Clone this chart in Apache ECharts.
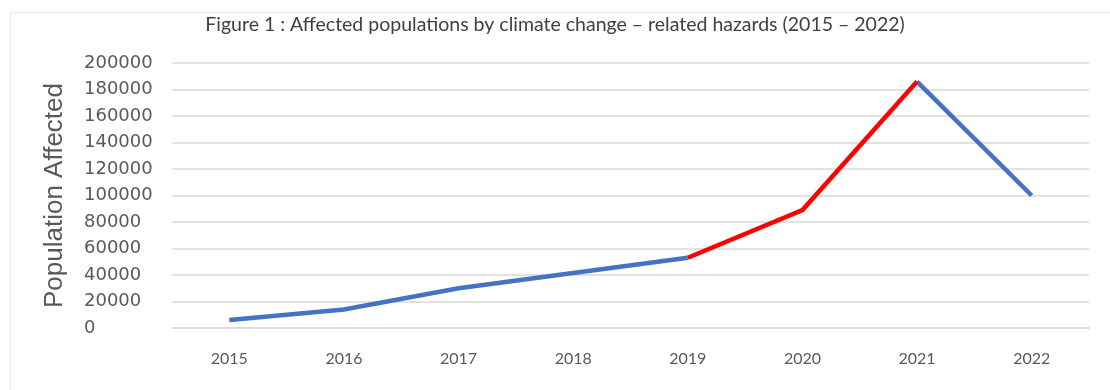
<!DOCTYPE html>
<html>
<head>
<meta charset="utf-8">
<script src="https://cdn.jsdelivr.net/npm/echarts@6/dist/echarts.min.js"></script>
<style>
  html, body { margin: 0; padding: 0; background: #ffffff; }
  #chart { width: 1110px; height: 390px; }
</style>
</head>
<body>
<div id="chart"></div>
<script>
// Years on the category axis
const years = ['2015', '2016', '2017', '2018', '2019', '2020', '2021', '2022'];
// Affected population per year
const affected = [6000, 14000, 30000, 41500, 53000, 89000, 186000, 100000];
// Years whose connecting segments are highlighted in red (2019 → 2021)
const highlightFrom = 4;
const highlightTo = 6;
// Value-axis ticks
const yMin = 0;
const yMax = 200000;
const yStep = 20000;

// Blue line: everything except the interior of the highlighted span
const blueData = affected.map((v, i) => (i > highlightFrom && i < highlightTo) ? null : v);
// Red line: only the highlighted span
const redData = affected.map((v, i) => (i >= highlightFrom && i <= highlightTo) ? v : null);

const chart = echarts.init(document.getElementById('chart'), null, { renderer: 'canvas' });

chart.setOption({
  animation: false,
  backgroundColor: '#ffffff',
  title: {
    text: 'Figure 1 : Affected populations by climate change \u2013 related hazards (2015 \u2013 2022)',
    left: 'center',
    top: 10,
    textStyle: {
      fontFamily: 'Lato',
      fontSize: 19.5,
      fontWeight: 'normal',
      color: '#404040'
    }
  },
  graphic: [
    {
      type: 'rect',
      left: 8,
      top: 10,
      shape: { width: 1110, height: 400 },
      style: { fill: 'none', stroke: '#ececec', lineWidth: 1.5 },
      silent: true
    }
  ],
  grid: {
    left: 172,
    right: 21,
    top: 63,
    bottom: 62
  },
  xAxis: {
    type: 'category',
    data: years,
    boundaryGap: true,
    axisLine: { show: true, lineStyle: { color: '#d9d9d9', width: 1.5 } },
    axisTick: { show: false },
    splitLine: { show: false },
    axisLabel: {
      margin: 23,
      fontFamily: 'Lato',
      fontSize: 16,
      color: '#595959'
    }
  },
  yAxis: {
    type: 'value',
    min: yMin,
    max: yMax,
    interval: yStep,
    name: 'Population Affected',
    nameLocation: 'middle',
    nameGap: 104,
    nameRotate: 90,
    nameTextStyle: {
      fontFamily: 'Liberation Sans',
      fontSize: 26,
      color: '#595959'
    },
    axisLine: { show: false },
    axisTick: { show: false },
    splitLine: { show: true, lineStyle: { color: '#d9d9d9', width: 1.5 } },
    axisLabel: {
      align: 'left',
      margin: 88,
      fontFamily: 'DejaVu Sans',
      fontSize: 18,
      color: '#595959',
      formatter: (v) => String(v)
    }
  },
  series: [
    {
      name: 'Affected',
      type: 'line',
      data: blueData,
      connectNulls: false,
      showSymbol: false,
      symbol: 'none',
      lineStyle: { color: '#4472C4', width: 4.5, cap: 'butt', join: 'miter' },
      z: 2
    },
    {
      name: 'Affected (surge)',
      type: 'line',
      data: redData,
      connectNulls: false,
      showSymbol: false,
      symbol: 'none',
      lineStyle: { color: '#FF0000', width: 4.5, cap: 'butt', join: 'miter' },
      z: 3
    }
  ]
});
</script>
</body>
</html>
